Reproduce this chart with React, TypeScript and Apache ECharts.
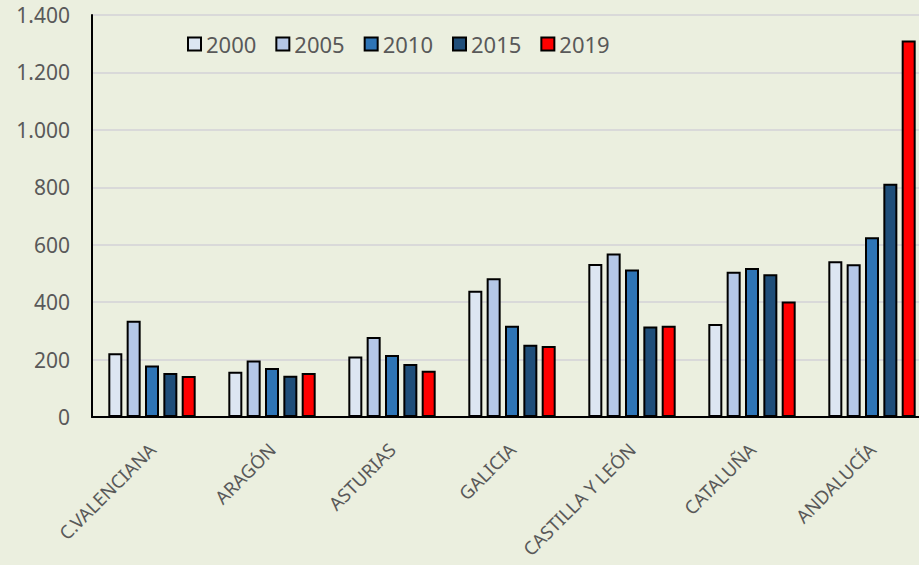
import React, { useEffect, useRef } from "react";
import * as echarts from "echarts";

const categories = ["C.VALENCIANA", "ARAGÓN", "ASTURIAS", "GALICIA", "CASTILLA Y LEÓN", "CATALUÑA", "ANDALUCÍA"];
const years = ["2000", "2005", "2010", "2015", "2019"];
const v2000 = [222, 158, 211, 440, 533, 324, 542];
const v2005 = [335, 197, 279, 483, 569, 506, 532];
const v2010 = [179, 171, 216, 318, 514, 519, 626];
const v2015 = [153, 144, 185, 252, 315, 497, 812];
const v2019 = [143, 153, 161, 247, 318, 402, 1311];
const seriesValues = [v2000, v2005, v2010, v2015, v2019];
const colors = ["#dce6f2", "#b4c7e7", "#2e75b6", "#1f4e79", "#ff0000"];
const yTicks = [0, 200, 400, 600, 800, 1000, 1200, 1400];

const fmt = (v: number) => String(v).replace(/\B(?=(\d{3})+(?!\d))/g, ".");

export default function App() {
  const ref = useRef<HTMLDivElement>(null);
  useEffect(() => {
    if (!ref.current) return;
    const chart = echarts.init(ref.current, undefined, { renderer: "svg" });
    chart.setOption({
      animation: false,
      backgroundColor: "#ebefdf",
      textStyle: { fontFamily: "Noto Sans" },
      legend: {
        left: 182,
        top: 28,
        icon: "rect",
        itemWidth: 13,
        itemHeight: 13,
        itemGap: 19,
        itemStyle: { borderColor: "#000", borderWidth: 2 },
        textStyle: { color: "#595959", fontSize: 22 },
        data: years,
      },
      grid: { left: 92, top: 15, bottom: 148, right: -13, containLabel: false, outerBoundsMode: "none" },
      xAxis: {
        type: "category",
        data: categories,
        axisLine: { lineStyle: { color: "#000", width: 2 } },
        axisTick: { show: false },
        axisLabel: { rotate: 45, color: "#595959", fontSize: 18.5, margin: 29, interval: 0 },
      },
      yAxis: {
        type: "value",
        min: yTicks[0],
        max: yTicks[yTicks.length - 1],
        interval: 200,
        axisLine: { show: true, lineStyle: { color: "#000", width: 2 } },
        axisTick: { show: false },
        axisLabel: { color: "#595959", fontSize: 21, margin: 22, formatter: (v: number) => fmt(v) },
        splitLine: { lineStyle: { color: "#d9d9d9", width: 2 } },
      },
      series: years.map((y, i) => ({
        name: y,
        type: "bar",
        data: seriesValues[i],
        barWidth: 14,
        barGap: "31%",
        itemStyle: { color: colors[i], borderColor: "#000", borderWidth: 2 },
      })),
    });
    return () => chart.dispose();
  }, []);
  return <div ref={ref} style={{ position: "fixed", left: 0, top: 0, width: 919, height: 565 }} />;
}
